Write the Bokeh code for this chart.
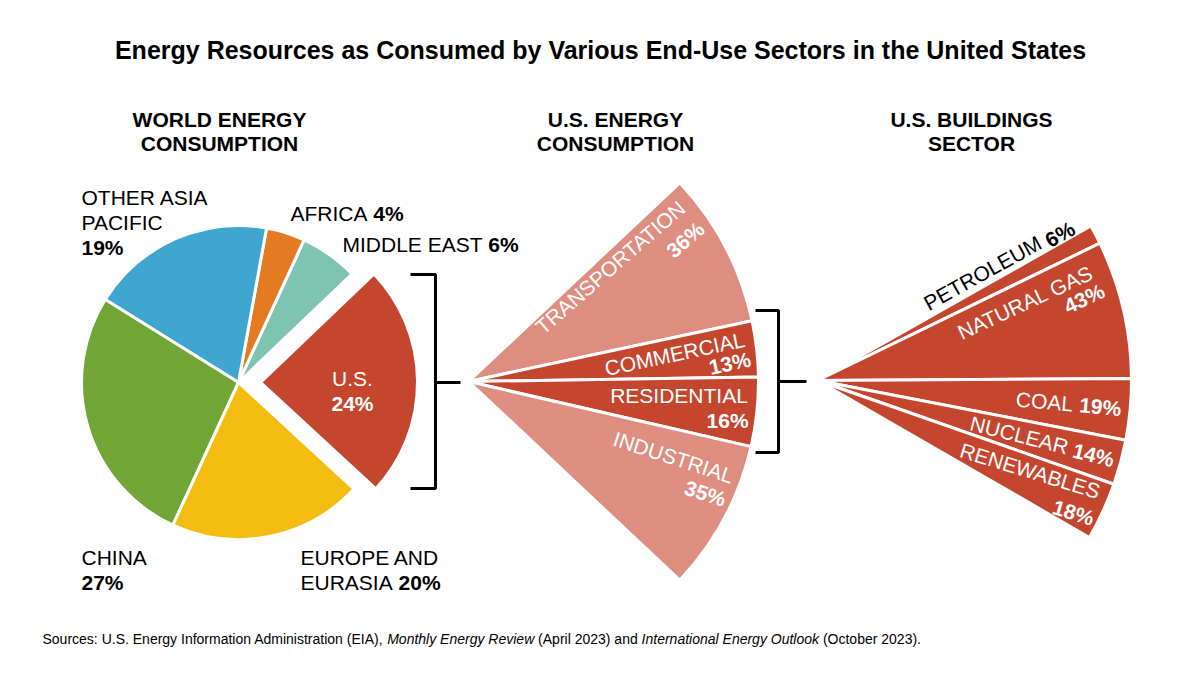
import numpy as np
from bokeh.plotting import figure
from bokeh.models import Range1d, ColumnDataSource
from bokeh.core.properties import value
from bokeh.embed import file_html
from bokeh.resources import INLINE

# ---------------- data ----------------
world_regions = ["U.S.", "MIDDLE EAST", "AFRICA", "OTHER ASIA PACIFIC", "CHINA", "EUROPE AND EURASIA"]
world_share = [24, 6, 4, 19, 27, 20]

us_sectors = ["TRANSPORTATION", "COMMERCIAL", "RESIDENTIAL", "INDUSTRIAL"]
us_share = [36, 13, 16, 35]

bldg_sources = ["PETROLEUM", "NATURAL GAS", "COAL", "NUCLEAR", "RENEWABLES"]
bldg_share = [6, 43, 19, 14, 18]

source_parts = [("Sources: U.S. Energy Information Administration (EIA),", False),
                ("Monthly Energy Review", True),
                ("(April 2023) and", False),
                ("International Energy Outlook", True),
                ("(October 2023).", False)]

# ---------------- styles / layout ----------------
W, H = 1200, 675
FONT = value("Liberation Sans")
LS = 21  # label font size
world_colors = ["#C5462F", "#7FC4B1", "#E47A22", "#3FA7CF", "#71A636", "#F4BC10"]
world_explode = [22, 0, 0, 0, 0, 0]
us_colors = ["#DE8E80", "#C4462F", "#C4462F", "#DE8E80"]
bldg_color = "#C4462F"

PIE_C = (238, 382)      # pixel coords (y down)
PIE_R = 157
PIE_START = -42.7       # degrees
FAN1_C = (468, 381)
FAN1_R = 290
FAN1_TOP, FAN1_SPAN = 43.25, 86.5
FAN2_C = (817, 380)
FAN2_R = 314
FAN2_TOP, FAN2_SPAN = 29.5, 59.5

# Arial / Liberation Sans advance widths (1/1000 em), regular & italic
_W = {" ": 278, "(": 333, ")": 333, ",": 278, ".": 278, ":": 278, "%": 889, "-": 333}
_W.update({d: 556 for d in "0123456789"})
_W.update(dict(zip("ABCDEFGHIJKLMNOPQRSTUVWXYZ",
                   [667, 667, 722, 722, 667, 611, 778, 722, 278, 500, 667, 556, 833,
                    722, 778, 667, 778, 722, 667, 611, 722, 667, 944, 667, 667, 611])))
_W.update(dict(zip("abcdefghijklmnopqrstuvwxyz",
                   [556, 556, 500, 556, 556, 278, 556, 556, 222, 222, 500, 222, 833,
                    556, 556, 556, 556, 333, 500, 278, 556, 500, 722, 500, 500, 500])))


def text_width(s, size):
    return sum(_W.get(c, 556) for c in s) * size / 1000.0


def Y(py):
    return H - py


p = figure(width=W, height=H, x_range=Range1d(0, W), y_range=Range1d(0, H),
           output_backend="svg", toolbar_location=None, min_border=0,
           x_axis_type=None, y_axis_type=None)
p.grid.visible = False
p.outline_line_color = None
p.background_fill_color = "white"
p.border_fill_color = "white"


def txt(x, y, s, size=LS, bold=False, color="black", align="left",
        baseline="alphabetic", angle=0.0, italic=False):
    style = "bold" if bold else ("italic" if italic else "normal")
    p.text(x=[x], y=[y], text=[s], text_font=FONT, text_font_size=f"{size}px",
           text_font_style=style, text_color=color, text_align=align,
           text_baseline=baseline, angle=angle, angle_units="deg")


def inline(x, y, plain, boldpart, size=LS, color="black"):
    txt(x, y, plain, size=size, color=color)
    txt(x + text_width(plain + " ", size), y, boldpart, size=size, bold=True, color=color)


# ---------------- pie: world energy consumption ----------------
shares = np.array(world_share, dtype=float)
ends = PIE_START + np.cumsum(shares) / shares.sum() * 360.0
starts = ends - shares / shares.sum() * 360.0
mids = np.radians((starts + ends) / 2)
ex = np.array(world_explode, dtype=float)
pie_src = ColumnDataSource(dict(
    x=PIE_C[0] + ex * np.cos(mids),
    y=Y(PIE_C[1]) + ex * np.sin(mids),
    start=starts, end=ends, color=world_colors, name=world_regions, share=world_share))
p.wedge(x="x", y="y", radius=PIE_R, start_angle="start", end_angle="end",
        start_angle_units="deg", end_angle_units="deg", direction="anticlock",
        fill_color="color", line_color="white", line_width=3, source=pie_src)


# ---------------- fan helper ----------------
def fan(center, radius, top, span, vals, colors):
    v = np.array(vals, dtype=float)
    cum = np.cumsum(v) / v.sum() * span
    hi = top - (cum - v / v.sum() * span)
    lo = top - cum
    src = ColumnDataSource(dict(x=[center[0]] * len(v), y=[Y(center[1])] * len(v),
                                start=lo, end=hi, color=colors))
    p.wedge(x="x", y="y", radius=radius, start_angle="start", end_angle="end",
            start_angle_units="deg", end_angle_units="deg", direction="anticlock",
            fill_color="color", line_color="white", line_width=3, source=src)
    return lo, hi


lo1, hi1 = fan(FAN1_C, FAN1_R, FAN1_TOP, FAN1_SPAN, us_share, us_colors)
lo2, hi2 = fan(FAN2_C, FAN2_R, FAN2_TOP, FAN2_SPAN, bldg_share, [bldg_color] * len(bldg_share))


def polar(center, r, th):
    t = np.radians(th)
    return center[0] + r * np.cos(t), Y(center[1]) + r * np.sin(t)


def plabel(center, r, th, s, rot, bold=False, color="white", size=LS):
    x, y = polar(center, r, th)
    txt(x, y, s, size=size, bold=bold, color=color, align="center", baseline="middle", angle=rot)


# ---------------- brackets ----------------
p.line(x=[410, 435, 435, 410], y=[Y(274), Y(274), Y(488), Y(488)], line_color="black", line_width=3)
p.line(x=[435, 460], y=[Y(382), Y(382)], line_color="black", line_width=3)
p.line(x=[755, 778, 778, 755], y=[Y(310), Y(310), Y(452), Y(452)], line_color="black", line_width=3)
p.line(x=[778, 806], y=[Y(381), Y(381)], line_color="black", line_width=3)

# ---------------- titles ----------------
txt(600, Y(49), "Energy Resources as Consumed by Various End-Use Sectors in the United States",
    size=25, bold=True, align="center")
for cx, l1, l2 in [(219, "WORLD ENERGY", "CONSUMPTION"),
                   (615, "U.S. ENERGY", "CONSUMPTION"),
                   (971, "U.S. BUILDINGS", "SECTOR")]:
    txt(cx, Y(119), l1, size=21, bold=True, align="center")
    txt(cx, Y(142.5), l2, size=21, bold=True, align="center")

# ---------------- pie labels ----------------
txt(81, Y(197), "OTHER ASIA")
txt(81, Y(221.5), "PACIFIC")
txt(81, Y(247), f"{world_share[3]}%", bold=True)
inline(290, Y(213), "AFRICA", f"{world_share[2]}%")
inline(342, Y(244), "MIDDLE EAST", f"{world_share[1]}%")
txt(352, Y(378), "U.S.", color="white", align="center")
txt(352, Y(403), f"{world_share[0]}%", color="white", bold=True, align="center")
txt(81, Y(557), "CHINA")
txt(81, Y(582), f"{world_share[4]}%", bold=True)
txt(300, Y(557), "EUROPE AND")
inline(300, Y(582), "EURASIA", f"{world_share[5]}%")

# ---------------- U.S. energy fan labels ----------------
plabel(FAN1_C, 182, 38.8, "TRANSPORTATION", 41)
plabel(FAN1_C, 259, 33.2, f"{us_share[0]}%", 41, bold=True)
plabel(FAN1_C, 208, 7.6, "COMMERCIAL", 12)
plabel(FAN1_C, 262, 4.0, f"{us_share[1]}%", 12, bold=True)
plabel(FAN1_C, 211, -3.8, "RESIDENTIAL", 0)
plabel(FAN1_C, 262, -8.5, f"{us_share[2]}%", 0, bold=True)
plabel(FAN1_C, 218.6, -20.3, "INDUSTRIAL", -18)
plabel(FAN1_C, 262, -25.3, f"{us_share[3]}%", -18, bold=True)

# ---------------- buildings fan labels ----------------
plabel(FAN2_C, 197, 33.1, "PETROLEUM", 29, color="black")
plabel(FAN2_C, 283, 31.1, f"{bldg_share[0]}%", 29, bold=True, color="black")
plabel(FAN2_C, 222, 20.6, "NATURAL GAS", 25)
plabel(FAN2_C, 279, 17.1, f"{bldg_share[1]}%", 25, bold=True)
plabel(FAN2_C, 228, -5.3, "COAL", -5.3)
plabel(FAN2_C, 284, -5.3, f"{bldg_share[2]}%", -5.3, bold=True)
plabel(FAN2_C, 209, -15.1, "NUCLEAR", -14)
plabel(FAN2_C, 286, -15.1, f"{bldg_share[3]}%", -14, bold=True)
plabel(FAN2_C, 231, -23.0, "RENEWABLES", -17)
plabel(FAN2_C, 288, -27.3, f"{bldg_share[4]}%", -17, bold=True)

# ---------------- sources (laid out sequentially) ----------------
SS = 14
sx = 42.0
for part, ital in source_parts:
    txt(sx, Y(638), part, size=SS, italic=ital)
    sx += text_width(part + " ", SS)

open("out.html", "w").write(file_html(p, INLINE))
